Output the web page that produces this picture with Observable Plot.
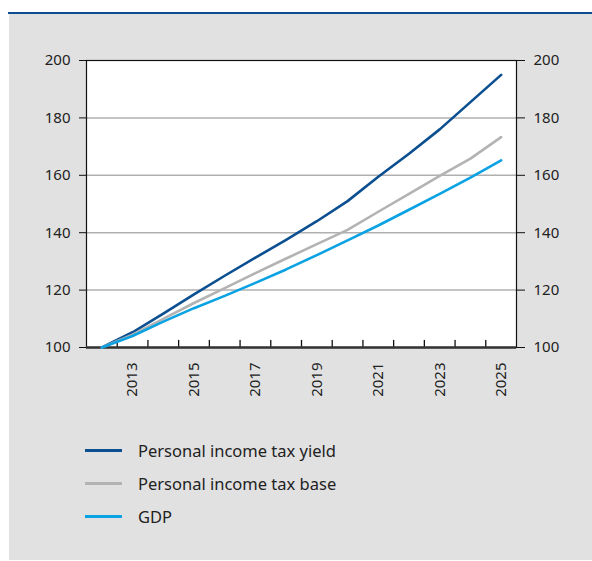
<!DOCTYPE html>
<html>
<head>
<meta charset="utf-8">
<script src="https://cdn.jsdelivr.net/npm/d3@7"></script>
<script src="https://cdn.jsdelivr.net/npm/@observablehq/plot@0.6"></script>
<style>
  body { margin: 0; background: #fff; font-family: "Noto Sans", "Open Sans", sans-serif; }
  #topline { position: absolute; left: 8px; top: 12px; width: 584px; height: 2px; background: #0b4f91; }
  #box { position: absolute; left: 9px; top: 14px; width: 583px; height: 546px; background: #e1e1e1; }
  #chart { position: absolute; left: 0; top: 0; }
  .leg { position: absolute; left: 76px; height: 20px; display: flex; align-items: center; font-size: 16.5px; color: #222; }
  .leg .sw { width: 37px; height: 3px; margin-right: 16px; }
</style>
</head>
<body>
<div id="topline"></div>
<div id="box">
  <div id="chart"></div>
  <div id="legend"></div>
</div>
<script>
const years = [2012, 2013, 2014, 2015, 2016, 2017, 2018, 2019, 2020, 2021, 2022, 2023, 2024, 2025];
const taxYield = [100, 105.3, 111.8, 118.5, 125, 131.3, 137.5, 144, 151, 159.5, 167.5, 176, 185.5, 195];
const taxBase  = [100, 104.5, 110, 115.5, 120.7, 125.9, 131, 136, 141, 147.3, 153.5, 159.8, 165.8, 173.3];
const gdp      = [100, 104, 109, 113.7, 118, 122.5, 127.2, 132.2, 137.3, 142.5, 148, 153.5, 159.2, 165.2];
const seriesNames = ["Personal income tax yield", "Personal income tax base", "GDP"];
const seriesColors = ["#0b4f91", "#b3b3b3", "#0aa2e2"];
const yTicks = [100, 120, 140, 160, 180, 200];
const labelYears = [2013, 2015, 2017, 2019, 2021, 2023, 2025];

const seriesValues = [taxYield, taxBase, gdp];
const data = [];
seriesNames.forEach((name, i) => {
  years.forEach((yr, j) => data.push({series: name, year: yr, value: seriesValues[i][j]}));
});
const boundaries = years.slice(0, -1).map(y => y + 0.5);
const tickShape = {draw(context, l) { context.moveTo(0, 0); context.lineTo(0, -l); }};

const chart = Plot.plot({
  width: 583,
  height: 400,
  marginLeft: 77,
  marginRight: 76,
  marginTop: 46,
  marginBottom: 67,
  style: {background: "transparent", fontFamily: "Noto Sans, Open Sans, sans-serif", fontSize: "15px", color: "#222"},
  x: {domain: [2011.5, 2025.5], axis: null},
  y: {domain: [100, 200], axis: null},
  color: {domain: seriesNames, range: seriesColors},
  marks: [
    Plot.frame({fill: "white", stroke: "none"}),
    Plot.ruleY([120, 140, 160, 180], {stroke: "#b0b0b0", strokeWidth: 1.5}),
    Plot.frame({stroke: "#111", strokeWidth: 1.2}),
    Plot.axisY(yTicks, {anchor: "left", label: null, tickSize: 7, tickPadding: 9, stroke: "#111", fontSize: 15}),
    Plot.axisY(yTicks, {anchor: "right", label: null, tickSize: 8, tickPadding: 9, stroke: "#111", fontSize: 15}),
    Plot.vector(boundaries, {x: d => d, y: 100, length: 7, rotate: 0, anchor: "start", shape: tickShape, stroke: "#111", strokeWidth: 1.3}),
    Plot.axisX(labelYears, {anchor: "bottom", label: null, tickSize: 0, tickPadding: 15, tickRotate: -90, tickFormat: d => String(d), fontSize: 15}),
    Plot.ruleY([100], {stroke: "#333", strokeWidth: 2.5}),
    Plot.line(data, {x: "year", y: "value", z: "series", stroke: "series", strokeWidth: 2.6})
  ]
});
document.getElementById("chart").appendChild(chart);

const legend = document.getElementById("legend");
const rowTops = [426, 459, 492];
seriesNames.forEach((name, i) => {
  const row = document.createElement("div");
  row.className = "leg";
  row.style.top = rowTops[i] + "px";
  const sw = document.createElement("span");
  sw.className = "sw";
  sw.style.background = seriesColors[i];
  const t = document.createElement("span");
  t.textContent = name;
  row.appendChild(sw);
  row.appendChild(t);
  legend.appendChild(row);
});
</script>
</body>
</html>
